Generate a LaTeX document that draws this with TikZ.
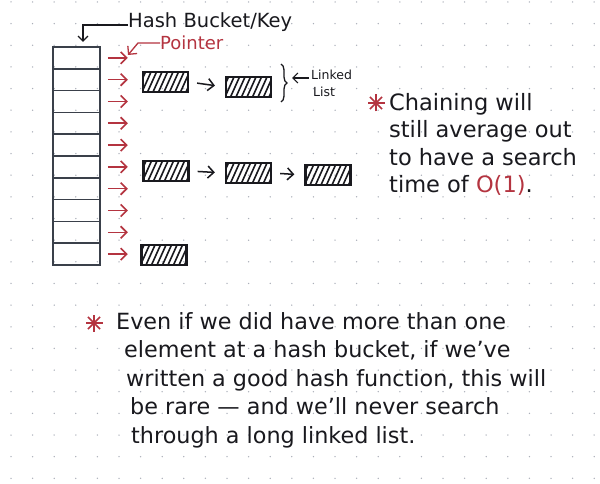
\documentclass[tikz,border=0pt]{standalone}
\usepackage{fontspec}
\setmainfont{DejaVu Sans}
\usetikzlibrary{arrows.meta, calc, decorations.pathreplacing, positioning}
\definecolor{inkred}{RGB}{180,52,64}
\definecolor{ink}{RGB}{25,25,30}
\definecolor{slate}{RGB}{58,64,74}
\definecolor{dotgray}{RGB}{170,175,185}

\tikzset{
  bucket/.style={draw=slate, line width=1.6pt, minimum width=47pt,
    minimum height=21.8pt, inner sep=0pt},
  cell/.style={draw=ink, line width=2.3pt, minimum width=45pt,
    minimum height=20pt, inner sep=0pt,
    path picture={
      \foreach \k in {-12,-6.5,...,48}
        \draw[ink, line width=1.6pt]
          ([xshift=\k pt]path picture bounding box.south west) -- ++(9pt,20pt);
    }},
  ptr/.style={draw=inkred, line width=1.6pt,
    -{Straight Barb[length=6pt,width=12pt]}},
  link/.style={draw=ink, line width=1.5pt,
    -{Straight Barb[length=6pt,width=12pt]}, shorten <=8pt, shorten >=10pt},
  lead/.style={draw=ink, line width=1.3pt,
    -{Straight Barb[length=5pt,width=10pt]}},
  note/.style={align=left, inner sep=0pt, text=ink}
}

\newcommand{\asterisk}[1]{%
  \foreach \a in {0,45,90,135}
    \draw[inkred, line width=1.6pt] (#1) ++(\a:8.5) -- ++(\a+180:17);}

\begin{document}
\begin{tikzpicture}[x=1pt, y=-1pt, >=Latex]
  \useasboundingbox[fill=white] (0,0) rectangle (600,484);

  % Dotted notebook paper
  \foreach \i in {0,...,27}
    \foreach \j in {0,...,22}
      \fill[dotgray] (11+21.6*\i, 2+21.65*\j) circle (0.75);

  % Hash table: ten buckets
  \foreach \i in {1,...,10}
    \node[bucket] (b\i) at (76.5, {47+21.8*(\i-0.5)}) {};

  % Pointer out of every bucket
  \foreach \i in {1,...,10}
    \draw[ptr] ([xshift=7pt]b\i.east) -- ++(20,0);

  % Linked lists hanging off buckets 2, 6 and 10
  \node[cell] (a1) at (165.5, 82) {};
  \node[cell] (a2) at (248.5, 87) {};
  \draw[link] (a1.east) -- (a2.west);

  \node[cell] (c1) at (166, 171) {};
  \node[cell] (c2) at (248.5, 173) {};
  \node[cell] (c3) at (328, 175) {};
  \draw[link] (c1.east) -- (c2.west);
  \draw[link] (c2.east) -- (c3.west);

  \node[cell] (d1) at (164, 255) {};

  % Labels at the top
  \node[note, anchor=west, font=\fontsize{19.5}{24}\selectfont] (hk)
    at (128, 22) {Hash Bucket/Key};
  \coordinate (hktip) at (83, 42);
  \draw[lead] ([yshift=-3pt]hk.west) -| (hktip);

  \node[note, anchor=west, text=inkred, font=\fontsize{18}{20}\selectfont]
    (pt) at (160, 43) {Pointer};
  \coordinate (pttip) at (128, 55);
  \draw[ptr, line width=1.3pt] (pt.west) -- ++(-22,0) -- (pttip);

  % Brace around the first list
  \coordinate (brtop) at (281, 64);
  \coordinate (brbot) at (281, 102);
  \draw[ink, line width=1.3pt, decorate, decoration={brace, amplitude=6pt}]
    (brtop) -- (brbot);
  \node[note, anchor=north west, font=\fontsize{12.5}{17}\selectfont] (ll)
    at (311, 70) {Linked\\\hspace*{2pt}List};
  \coordinate (brtip) at (292, 78);
  \draw[lead, line width=1.2pt] (ll.north west |- brtip)
    ++(-2,0) -- (brtip);

  % Side note
  \asterisk{376, 103}
  \node[note, anchor=north west, font=\fontsize{22.5}{27.5}\selectfont] (side)
    at (389, 93) {Chaining will\\still average out\\to have a search\\
    time of {\color{inkred}O(1)}.};

  % Bottom note
  \asterisk{94, 323}
  \node[note, anchor=north west, font=\fontsize{22.3}{28.5}\selectfont] (foot)
    at (116, 312) {Even if we did have more than one\\
    \hspace*{8pt}element at a hash bucket, if we've\\
    \hspace*{10pt}written a good hash function, this will\\
    \hspace*{14pt}be rare --- and we'll never search\\
    \hspace*{15pt}through a long linked list.};
\end{tikzpicture}
\end{document}
